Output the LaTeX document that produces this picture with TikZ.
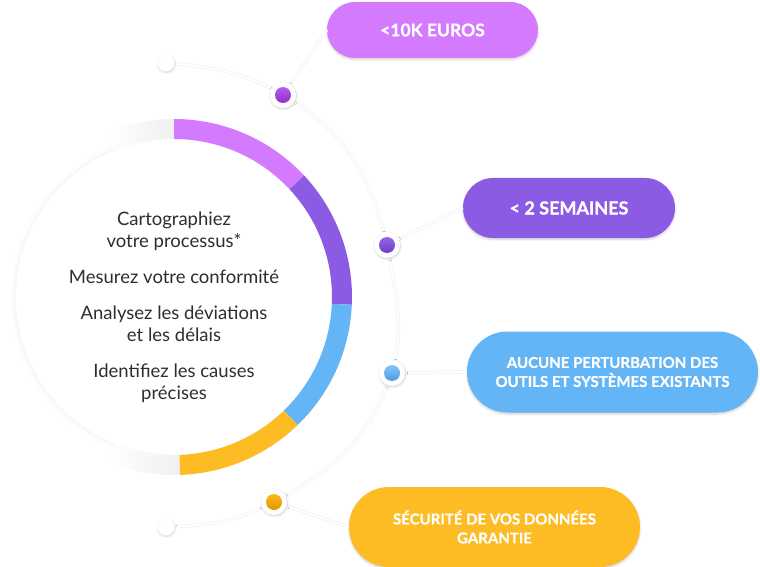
\documentclass[tikz,border=0pt]{standalone}
\usepackage{fontspec}
\setmainfont{Lato}
\newfontfamily\pillfont{Lato}[BoldFont={* Bold}, BoldFeatures={FakeBold=0.8}]
\usetikzlibrary{shapes.misc,shadows.blur,positioning}

\definecolor{cLilac}{HTML}{D47AFF}
\definecolor{cViolet}{HTML}{8B5BE3}
\definecolor{cSky}{HTML}{64B5F6}
\definecolor{cAmber}{HTML}{FDBB24}
\definecolor{cInk}{HTML}{2E2E2E}
\definecolor{cLilacTop}{HTML}{B65CEB}
\definecolor{cLilacBot}{HTML}{8C2FC9}
\definecolor{cVioletTop}{HTML}{9466E6}
\definecolor{cVioletBot}{HTML}{6E3CC8}
\definecolor{cSkyTop}{HTML}{86C6F7}
\definecolor{cSkyBot}{HTML}{4C9AE2}
\definecolor{cAmberTop}{HTML}{F9B81C}
\definecolor{cAmberBot}{HTML}{E49400}

\tikzset{
  pill/.style={rounded rectangle, fill=#1, text=white,
    align=center, inner sep=0pt,
    blur shadow={shadow blur steps=6, shadow xshift=0pt, shadow yshift=-1.5pt, shadow opacity=18}},
  hub/.style={circle, fill=white, minimum size=26pt, inner sep=0pt,
    blur shadow={shadow blur steps=5, shadow xshift=0.5pt, shadow yshift=-1pt, shadow opacity=20}},
  tail/.style={circle, fill=white, minimum size=17pt, inner sep=0pt,
    blur shadow={shadow blur steps=5, shadow xshift=0.5pt, shadow yshift=-1pt, shadow opacity=18}},
  core/.style={circle, minimum size=16pt, inner sep=0pt, top color=#1Top, bottom color=#1Bot},
  track/.style={draw=black!5, double=white, double distance=1.8pt, line width=0.8pt}
}

\begin{document}
\begin{tikzpicture}[x=1pt,y=1pt]
\useasboundingbox (0,0) rectangle (760,566);

% main disc and ring
\node[circle, fill=white, minimum size=316pt, inner sep=0pt,
  blur shadow={shadow blur steps=8, shadow blur radius=6pt, shadow xshift=0pt, shadow yshift=0pt, shadow opacity=8}] (disc) at (174,269) {};

\begin{scope}[shift={(disc.center)}]
  \shade[left color=white, right color=black!6] (112:178) arc[start angle=112, end angle=90, radius=178] -- (90:158) arc[start angle=90, end angle=112, radius=158] -- cycle;
  \shade[left color=white, right color=black!6] (248:178) arc[start angle=248, end angle=272, radius=178] -- (272:158) arc[start angle=272, end angle=248, radius=158] -- cycle;
  \foreach \from/\to/\col in {90/43/cLilac, 43/-2.5/cViolet, -2.5/-46/cSky, -46/-88/cAmber}
    \fill[\col] (\from:178) arc[start angle=\from, end angle=\to, radius=178] -- (\to:158) arc[start angle=\to, end angle=\from, radius=158] -- cycle;
\end{scope}

\node[font=\fontsize{18.5}{22}\selectfont, text=cInk, align=center] (steps) at (174,259)
  {Cartographiez\\votre processus*\\[14pt]Mesurez votre conformité\\[14pt]Analysez les déviations\\et les délais\\[14pt]Identifiez les causes\\précises};

% benefits
\node[pill=cLilac, minimum width=211pt, minimum height=56pt, font=\pillfont\bfseries\fontsize{17.5}{20}\selectfont] (cost) at (432.5,536) {<10K EUROS};
\node[pill=cViolet, minimum width=212pt, minimum height=60pt, font=\pillfont\bfseries\fontsize{18}{20}\selectfont] (time) at (569,358) {< 2 SEMAINES};
\node[pill=cSky, minimum width=291pt, minimum height=81pt, font=\pillfont\bfseries\fontsize{15}{19}\selectfont] (tools) at (612.5,194) {AUCUNE PERTURBATION DES\\OUTILS ET SYSTÈMES EXISTANTS};
\node[pill=cAmber, minimum width=291pt, minimum height=80pt, font=\pillfont\bfseries\fontsize{15}{19}\selectfont] (safe) at (494.5,39) {SÉCURITÉ DE VOS DONNÉES\\GARANTIE};

% track
\coordinate (e1) at (166,503);
\coordinate (d1) at (283,471);
\coordinate (d2) at (387,321);
\coordinate (d3) at (392,193);
\coordinate (d4) at (274,64);
\coordinate (e2) at (166,39);

\draw[track] (e1) to[out=-5,in=150] (d1) to[out=-30,in=103] (d2)
  to[out=-80,in=75] (d3) to[out=-109,in=28] (d4) to[out=-152,in=2] (e2);

\draw[track] (d1) -- (cost.west);
\draw[track] (d2) -- (time.west);
\draw[track] (d3) -- (tools.west);
\draw[track] (d4) -- (safe.west);

\node[tail] (t1) at (e1) {};
\node[tail] (t2) at (e2) {};
\node[hub] (h1) at (d1) {};
\node[hub] (h2) at (d2) {};
\node[hub] (h3) at (d3) {};
\node[hub] (h4) at (d4) {};
\node[core=cLilac] (c1) at (h1) {};
\node[core=cViolet] (c2) at (h2) {};
\node[core=cSky] (c3) at (h3) {};
\node[core=cAmber] (c4) at (h4) {};
\end{tikzpicture}
\end{document}
